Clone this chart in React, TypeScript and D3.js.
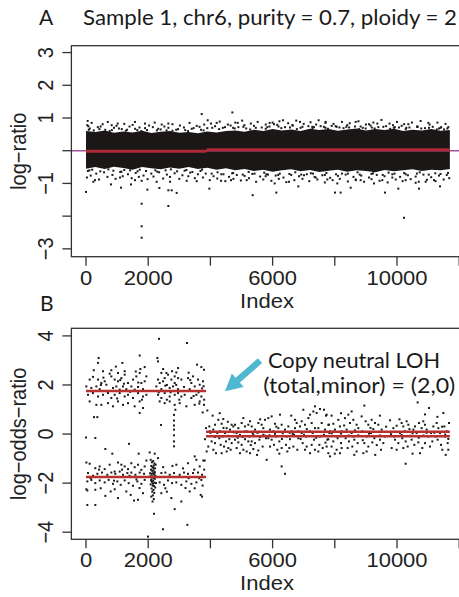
import * as d3 from "d3";

const W = 459;
const H = 597;

// shared x axis
const xTicks = [0, 2000, 4000, 6000, 8000, 10000, 12000];
const xTickLabels = ["0", "2000", "", "6000", "", "10000", ""];

// panel A: log-ratio
const ratioTicks = [-3, -2, -1, 0, 1, 2, 3];
const ratioTickLabels = ["\u22123", "", "\u22121", "", "1", "2", "3"];
const ratioSegStart = [0, 3870];
const ratioSegEnd = [3870, 11700];
const ratioSegValue = [-0.02, 0.03];
// dense core of the cloud (upper / lower envelope, every 300 index units)
const coreIdx = [
  0, 300, 600, 900, 1200, 1500, 1800, 2100, 2400, 2700, 3000, 3300, 3600, 3900, 4200, 4500, 4800, 5100, 5400, 5700,
  6000, 6300, 6600, 6900, 7200, 7500, 7800, 8100, 8400, 8700, 9000, 9300, 9600, 9900, 10200, 10500, 10800, 11100, 11400, 11700,
];
const coreHi = [
  0.6, 0.57, 0.62, 0.55, 0.59, 0.56, 0.61, 0.54, 0.58, 0.6, 0.55, 0.57, 0.53, 0.59, 0.56, 0.6, 0.62, 0.58, 0.64, 0.6,
  0.66, 0.62, 0.65, 0.6, 0.67, 0.63, 0.66, 0.61, 0.65, 0.68, 0.62, 0.66, 0.63, 0.67, 0.6, 0.64, 0.62, 0.66, 0.61, 0.63,
];
const coreLo = [
  -0.55, -0.5, -0.56, -0.49, -0.53, -0.58, -0.5, -0.54, -0.57, -0.51, -0.55, -0.5, -0.56, -0.52, -0.58, -0.54, -0.6, -0.56, -0.62, -0.58,
  -0.64, -0.6, -0.57, -0.63, -0.59, -0.65, -0.61, -0.58, -0.64, -0.6, -0.62, -0.66, -0.59, -0.63, -0.6, -0.57, -0.62, -0.58, -0.6, -0.56,
];
// points outside the core
const ratioPoints: [number, number][] = [
  [0, -1.26], [1790, -1.62], [1790, -2.31], [1790, -2.66], [2648, -1.69], [3720, 1.12], [4706, 1.17], [5360, -1.36],
  [1973, -1.19], [2359, -1.14], [2648, -1.21], [2755, -1.21], [2916, -1.29], [3967, -1.16], [804, -1.03], [1126, -1.13],
  [1447, -1.03], [54, 0.91], [75, 0.75], [536, 0.81], [826, 0.78], [1019, 0.83], [1576, 0.88], [1898, 0.83], [2434, 0.8],
  [2648, 0.83], [3913, 0.93], [4878, 0.85], [5092, 0.78], [4202, 0.85], [1576, -0.9], [1790, -0.92], [2273, -0.95],
  [2702, -0.95], [3238, -0.92], [3560, -0.93], [4342, -0.92], [4663, -0.9], [5167, -0.9], [236, -0.95], [290, -0.9],
  [1094, -0.82], [10225, -2.05], [6119, -1.28], [6827, -1.09], [8006, -1.28], [8188, -1.28], [9614, -1.28], [10043, -1.16],
  [10708, -1.16], [11383, -1.09], [6066, -1.0], [6527, -0.95], [7009, -0.75], [7384, -0.82], [7760, -0.88], [8081, -1.0],
  [8510, -1.13], [8671, -0.88], [8832, -0.9], [9261, -1.0], [9528, -0.9], [9850, -0.82], [10279, -0.9], [10600, -0.98],
  [10922, -0.95], [11190, -0.9], [5776, -0.78], [6334, 0.93], [7706, 0.88], [8671, 0.88], [9368, 0.83], [9871, 0.78],
  [10365, 0.81], [11008, 0.85], [6881, 0.88], [5905, 0.85], [6044, 0.81], [6634, 0.78], [7277, 0.73], [7545, 0.75],
  [8027, 0.75], [8371, 0.73], [8992, 0.68], [9100, 0.81], [10064, 0.71], [10654, 0.73], [11351, 0.68], [11511, 0.65],
  [120, 0.68], [380, 0.72], [620, 0.64], [900, 0.7], [1150, 0.66], [1400, 0.74], [1650, 0.63], [1900, 0.69], [2150, 0.72],
  [2400, 0.65], [2650, 0.7], [2900, 0.64], [3150, 0.71], [3400, 0.67], [3650, 0.73], [3900, 0.69], [4150, 0.75], [4400, 0.7],
  [4650, 0.77], [4900, 0.72], [5150, 0.68], [5400, 0.76], [5650, 0.71], [5900, 0.74], [6150, 0.79], [6400, 0.72], [6650, 0.77],
  [6900, 0.7], [7150, 0.75], [7400, 0.8], [7650, 0.73], [7900, 0.76], [8150, 0.71], [8400, 0.78], [8650, 0.74], [8900, 0.7],
  [9150, 0.77], [9400, 0.72], [9650, 0.75], [9900, 0.7], [10150, 0.76], [10400, 0.71], [10650, 0.74], [10900, 0.69],
  [11150, 0.73], [11400, 0.7], [11650, 0.72], [250, 0.62], [760, 0.6], [1280, 0.61], [1780, 0.6], [2280, 0.62], [2780, 0.61],
  [3280, 0.6], [3780, 0.62], [4280, 0.66], [4780, 0.68], [5280, 0.65], [5780, 0.67], [6280, 0.69], [6780, 0.66], [7280, 0.68],
  [7780, 0.67], [8280, 0.69], [8780, 0.66], [9280, 0.68], [9780, 0.67], [10280, 0.66], [10780, 0.68], [11280, 0.65],
  [60, -0.62], [330, -0.7], [580, -0.66], [850, -0.74], [1100, -0.65], [1350, -0.72], [1600, -0.68], [1850, -0.76], [2100, -0.7],
  [2350, -0.66], [2600, -0.73], [2850, -0.69], [3100, -0.75], [3350, -0.67], [3600, -0.72], [3850, -0.7], [4100, -0.78],
  [4350, -0.72], [4600, -0.8], [4850, -0.74], [5100, -0.77], [5350, -0.71], [5600, -0.79], [5850, -0.73], [6100, -0.76],
  [6350, -0.82], [6600, -0.74], [6850, -0.78], [7100, -0.72], [7350, -0.8], [7600, -0.75], [7850, -0.83], [8100, -0.77],
  [8350, -0.73], [8600, -0.8], [8850, -0.76], [9100, -0.82], [9350, -0.74], [9600, -0.78], [9850, -0.72], [10100, -0.8],
  [10350, -0.75], [10600, -0.79], [10850, -0.73], [11100, -0.81], [11350, -0.76], [11600, -0.74], [200, -0.58], [720, -0.57],
  [1230, -0.59], [1730, -0.58], [2230, -0.6], [2730, -0.57], [3230, -0.59], [3730, -0.58], [4230, -0.66], [4730, -0.68],
  [5230, -0.65], [5730, -0.67], [6230, -0.7], [6730, -0.66], [7230, -0.69], [7730, -0.68], [8230, -0.7], [8730, -0.66],
  [9230, -0.69], [9730, -0.67], [10230, -0.68], [10730, -0.66], [11230, -0.69],
  [40, 0.78], [180, 0.85], [470, 0.74], [700, 0.88], [980, 0.76], [1230, 0.82], [1500, 0.79], [1720, 0.71], [2030, 0.77],
  [2210, 0.86], [2520, 0.74], [2780, 0.81], [3020, 0.77], [3330, 0.85], [3560, 0.76], [3800, 0.8], [4020, 0.83], [4300, 0.89],
  [4560, 0.8], [4800, 0.86], [5020, 0.92], [5300, 0.83], [5520, 0.88], [5780, 0.8], [6000, 0.86], [6220, 0.9], [6500, 0.84],
  [6760, 0.92], [7000, 0.82], [7220, 0.87], [7480, 0.93], [7700, 0.85], [7960, 0.82], [8230, 0.88], [8480, 0.84], [8760, 0.9],
  [9000, 0.8], [9240, 0.86], [9500, 0.94], [9760, 0.83], [10000, 0.88], [10230, 0.81], [10480, 0.86], [10760, 0.91],
  [11050, 0.8], [11300, 0.86], [11560, 0.82],
  [30, -0.82], [150, -0.76], [420, -0.88], [690, -0.8], [950, -0.86], [1180, -0.78], [1470, -0.84], [1700, -0.8], [1980, -0.87],
  [2170, -0.79], [2480, -0.85], [2700, -0.8], [3000, -0.86], [3290, -0.78], [3500, -0.84], [3760, -0.82], [3980, -0.9],
  [4220, -0.85], [4480, -0.93], [4740, -0.86], [4980, -0.91], [5240, -0.84], [5470, -0.95], [5700, -0.88], [5960, -0.92],
  [6200, -0.86], [6440, -0.96], [6700, -0.9], [6960, -0.86], [7180, -0.93], [7440, -0.88], [7680, -0.97], [7930, -0.9],
  [8160, -0.86], [8420, -0.94], [8680, -0.9], [8940, -0.95], [9180, -0.87], [9440, -0.92], [9700, -0.97], [9960, -0.88],
  [10180, -0.93], [10440, -0.87], [10700, -0.95], [10960, -0.89], [11240, -0.93], [11500, -0.88], [11680, -0.84],
  [90, 0.64], [430, 0.66], [830, 0.63], [1060, 0.68], [1320, 0.64], [1580, 0.67], [1960, 0.63], [2320, 0.67], [2590, 0.62],
  [2960, 0.66], [3190, 0.63], [3460, 0.69], [3700, 0.64], [4060, 0.7], [4470, 0.72], [4730, 0.7], [5060, 0.73], [5460, 0.7],
  [5830, 0.72], [6190, 0.74], [6560, 0.71], [6960, 0.73], [7330, 0.72], [7700, 0.7], [8060, 0.73], [8460, 0.71], [8830, 0.74],
  [9190, 0.71], [9560, 0.73], [9930, 0.72], [10300, 0.7], [10660, 0.73], [11030, 0.7], [11420, 0.72], [11620, 0.68],
  [110, -0.6], [460, -0.63], [880, -0.61], [1140, -0.64], [1420, -0.6], [1660, -0.63], [1930, -0.62], [2290, -0.64],
  [2560, -0.6], [2930, -0.63], [3170, -0.61], [3420, -0.65], [3680, -0.62], [4040, -0.7], [4420, -0.72], [4700, -0.69],
  [5040, -0.73], [5420, -0.7], [5800, -0.72], [6180, -0.74], [6540, -0.71], [6920, -0.73], [7300, -0.7], [7680, -0.74],
  [8040, -0.72], [8420, -0.7], [8800, -0.73], [9180, -0.71], [9540, -0.74], [9920, -0.7], [10280, -0.72], [10640, -0.7],
  [11020, -0.73], [11400, -0.71], [11640, -0.68],
];

// panel B: log-odds-ratio
const oddsTicks = [-4, -2, 0, 2, 4];
const oddsTickLabels = ["\u22124", "\u22122", "0", "2", "4"];
const oddsSegStart = [0, 0, 3860, 3860];
const oddsSegEnd = [3860, 3860, 11700, 11700];
const oddsSegValue = [1.75, -1.75, 0.09, -0.09];
const oddsPoints: [number, number][] = [
  // upper cluster
  [2348, 3.88], [3248, 3.71], [408, 3.1], [386, 2.9], [1726, 3.2], [2294, 3.1], [2316, 2.96], [1169, 2.9], [3570, 2.83],
  [3709, 2.73], [2959, 2.69], [2766, 2.56], [2905, 2.51], [547, 2.56], [815, 2.6], [1029, 2.49], [1244, 2.56], [1887, 2.73],
  [1748, 2.65], [2584, 2.49], [3795, 2.62], [2852, 2.35], [2423, 2.49], [118, 2.22], [225, 2.33], [386, 2.22], [493, 2.08],
  [601, 2.15], [761, 2.46], [815, 2.35], [922, 2.22], [1029, 2.15], [1137, 2.28], [1244, 2.42], [1351, 2.08], [1512, 2.22],
  [1619, 2.35], [1726, 2.49], [1780, 2.08], [1887, 2.15], [1941, 2.35], [2316, 2.22], [2369, 2.08], [2477, 2.15], [2530, 2.28],
  [2637, 2.42], [2745, 2.22], [2852, 2.08], [2959, 2.28], [3066, 2.22], [3281, 2.28], [3441, 2.35], [3602, 2.22], [3763, 2.15],
  [3656, 2.01], [3388, 2.08], [11, 1.94], [172, 1.88], [333, 1.94], [440, 1.83], [654, 2.01], [869, 1.88], [976, 1.94],
  [1083, 1.81], [1190, 1.94], [1297, 1.83], [1458, 1.94], [1565, 1.81], [1673, 1.92], [1833, 1.83], [2262, 1.94], [2423, 1.83],
  [2552, 1.97], [2691, 1.88], [2798, 1.94], [2959, 1.83], [3152, 1.92], [3334, 1.83], [3495, 1.94], [3731, 1.86], [65, 1.6],
  [225, 1.67], [386, 1.53], [547, 1.6], [708, 1.67], [815, 1.47], [922, 1.6], [1083, 1.67], [1244, 1.53], [1351, 1.6],
  [1512, 1.47], [1673, 1.67], [1833, 1.53], [1941, 1.6], [2316, 1.6], [2423, 1.47], [2530, 1.67], [2691, 1.53], [2852, 1.6],
  [2959, 1.67], [3066, 1.53], [3173, 1.6], [3388, 1.47], [3549, 1.6], [3709, 1.53], [118, 1.33], [333, 1.19], [493, 1.19],
  [708, 1.26], [869, 1.13], [1029, 1.33], [1190, 1.19], [1351, 1.26], [1565, 1.13], [1726, 1.33], [1833, 1.06], [2369, 1.33],
  [2530, 1.26], [2691, 1.33], [2852, 1.19], [2873, 0.99], [3012, 1.26], [3227, 1.13], [3495, 1.19], [3656, 1.33], [3795, 1.19],
  [258, 0.69], [365, 0.69], [1726, 0.86], [2829, 0.78], [2829, 0.55], [2829, 0.35], [2829, 0.18], [2829, -0.05], [3643, 1.24],
  [150, 1.75], [480, 2.0], [700, 1.72], [1000, 1.45], [1220, 2.05], [1420, 1.72], [1600, 2.55], [1800, 1.4], [2340, 1.7],
  [2480, 2.65], [2600, 1.4], [2720, 1.7], [2900, 2.0], [3100, 1.75], [3300, 2.5], [3460, 1.55], [3620, 1.7], [3780, 1.95],
  [560, 2.3], [1100, 2.2], [1680, 2.1], [2600, 2.0], [3000, 1.4], [3350, 2.2], [3800, 1.4], [250, 2.6], [960, 2.75],
  // lower cluster
  [0, -0.14], [300, -0.16], [1383, -0.4], [2411, 0.37], [2829, -0.3], [2829, -0.5], [622, -0.61], [847, -0.8], [1694, -0.8],
  [2048, -0.75], [2209, -0.8], [2316, -0.98], [11, -1.16], [118, -1.21], [300, -1.39], [440, -1.32], [601, -1.43], [761, -1.25],
  [922, -1.53], [1029, -1.16], [1137, -1.25], [1244, -1.32], [1351, -1.43], [1458, -1.19], [1565, -1.35], [1673, -1.25],
  [1780, -1.46], [1887, -1.32], [1941, -1.08], [2905, -1.25], [3280, -1.19], [3495, -0.91], [3549, -1.05], [3816, -1.08],
  [3656, -1.32], [65, -1.59], [225, -1.7], [365, -1.62], [515, -1.57], [686, -1.66], [815, -1.57], [944, -1.62], [1083, -1.53],
  [1190, -1.66], [1330, -1.59], [1458, -1.57], [1587, -1.66], [1726, -1.57], [1866, -1.62], [2423, -1.59], [2552, -1.57],
  [2691, -1.66], [2830, -1.59], [3012, -1.66], [3152, -1.57], [3280, -1.62], [3441, -1.59], [3602, -1.57], [3731, -1.66],
  [43, -1.93], [172, -1.87], [300, -2.0], [440, -1.89], [601, -1.97], [729, -1.87], [869, -2.03], [1008, -1.93], [1115, -2.07],
  [1244, -1.89], [1372, -2.0], [1512, -2.11], [1651, -1.93], [1780, -2.03], [1887, -1.87], [2369, -1.97], [2509, -2.07],
  [2637, -1.89], [2766, -2.0], [2905, -1.97], [3066, -2.07], [3227, -1.93], [3388, -2.03], [3549, -1.97], [3709, -1.87],
  [11, -2.25], [43, -2.3], [300, -2.27], [472, -2.21], [622, -2.52], [794, -2.34], [922, -2.25], [1029, -2.61], [1297, -2.34],
  [1437, -2.48], [1544, -2.71], [1673, -2.68], [1833, -2.41], [2423, -2.41], [2552, -2.21], [2745, -2.61], [3066, -2.75],
  [3334, -2.34], [3495, -2.21], [3688, -2.48], [3731, -2.55], [43, -2.89], [300, -2.89], [2187, -3.25], [2852, -3.06],
  [2477, -3.88], [3259, -3.7], [1994, -4.18],
  [2080, -1.05], [2120, -1.15], [2160, -1.1], [2200, -1.2], [2100, -1.3], [2140, -1.35], [2180, -1.28], [2220, -1.4],
  [2090, -1.45], [2130, -1.5], [2170, -1.48], [2210, -1.55], [2150, -1.6], [2110, -1.62], [2190, -1.65], [2230, -1.7],
  [2070, -1.72], [2140, -1.76], [2175, -1.8], [2215, -1.82], [2100, -1.85], [2160, -1.9], [2120, -1.95], [2200, -1.98],
  [2080, -2.05], [2145, -2.1], [2185, -2.12], [2225, -2.18], [2110, -2.22], [2170, -2.28], [2130, -2.35], [2195, -2.4],
  [2150, -2.5], [2100, -2.55], [2180, -2.65], [2140, -2.75], [2165, -1.38], [2125, -1.72], [2205, -1.58], [2095, -1.9],
  [2155, -2.02], [2240, -1.25], [2060, -1.6], [2250, -2.0],
  [150, -1.8], [420, -1.45], [640, -1.75], [900, -1.9], [1160, -1.45], [1400, -1.7], [1620, -1.85], [1850, -1.75],
  [2350, -1.75], [2480, -1.35], [2620, -1.75], [2780, -1.3], [2960, -1.75], [3120, -1.4], [3300, -1.8], [3480, -1.45],
  [3640, -1.8], [3800, -1.45], [260, -1.75], [1000, -1.75], [1720, -2.2], [2600, -2.35], [3200, -2.2], [3750, -2.1],
  // right segment
  [3751, 0.88], [3901, 0.96], [4072, 0.75], [3965, 0.31], [3858, 0.24], [4094, 0.18], [4147, 0.38], [3987, 0.11], [3826, -0.21],
  [4040, -0.3], [4147, -0.37], [3933, -0.51], [4094, -0.64], [3880, -0.71], [4180, -0.78], [3772, -1.08], [4255, 0.58],
  [4362, 0.42], [4415, 0.61], [4523, 0.24], [4308, 0.11], [4469, 0.04], [4630, 0.18], [4683, 0.38], [4287, -0.17], [4394, -0.1],
  [4501, -0.3], [4608, -0.21], [4330, -0.44], [4437, -0.51], [4576, -0.57], [4683, -0.37], [4737, 0.31], [4362, -0.78],
  [4523, -0.71], [4651, -0.64], [4791, 0.38], [4898, 0.24], [5005, 0.45], [5059, 0.65], [5112, 0.31], [5219, 0.38], [4844, 0.04],
  [4951, -0.03], [5166, 0.11], [5252, -0.1], [4791, -0.23], [4898, -0.34], [5005, -0.44], [5112, -0.21], [5219, -0.3],
  [4844, -0.57], [5059, -0.64], [5166, -0.71], [5273, -0.78], [4951, -0.78], [5273, 0.52], [5327, 0.31], [5434, 0.18],
  [5541, 0.45], [5648, 0.38], [5380, -0.03], [5487, 0.07], [5595, -0.12], [5702, -0.03], [5327, -0.3], [5434, -0.37],
  [5573, -0.23], [5680, -0.51], [5788, -0.17], [5380, -0.61], [5541, -0.67], [5809, -1.05], [5755, 0.58], [5702, 0.24],
  [5863, 0.65], [5970, 0.72], [6077, 0.42], [5916, 0.18], [6023, 0.11], [6184, 0.24], [6291, 0.38], [6238, 0.79], [5863, -0.17],
  [5970, -0.23], [6109, -0.1], [6216, -0.3], [6324, 0.04], [5916, -0.51], [6045, -0.44], [6152, -0.64], [6291, -0.57],
  [6216, -0.8], [6291, -1.32], [6399, -1.62], [6399, 0.18], [6506, 0.31], [6613, 0.11], [6720, 0.24], [6452, -0.1], [6559, -0.21],
  [6688, -0.03], [6827, -0.17], [6431, -0.44], [6538, -0.57], [6667, -0.51], [6795, -0.64], [6474, -0.71], [6720, 0.58],
  [6774, 0.45], [6881, 0.31], [6827, 0.11], [6935, 0.52], [7042, 0.38], [7149, 0.65], [7256, 0.45], [7363, 0.24], [6935, 0.04],
  [7074, -0.1], [7203, 0.11], [7331, -0.23], [6967, -0.37], [7095, -0.51], [7256, -0.44], [7363, -0.64], [7042, -0.64],
  [7203, -0.78], [6988, 0.99], [7203, 0.79], [7363, 1.13], [7310, 0.92], [7417, 0.86], [7471, 0.24], [7578, 0.45], [7685, 0.18],
  [7792, 0.38], [7524, -0.1], [7653, -0.03], [7760, -0.23], [7503, -0.44], [7610, -0.57], [7738, -0.51], [7471, -0.71],
  [7792, -0.78], [7524, 1.02], [7653, 0.99], [7717, 0.75], [4222, 0.04], [4576, -0.07], [4758, 0.07], [5037, -0.12],
  [5359, 0.04], [5755, -0.07], [6077, 0.01], [6345, -0.07], [6645, 0.01], [7010, -0.03], [7288, 0.04], [7578, -0.07],
  [7824, 0.04], [7738, 0.79], [7898, 0.75], [7813, 0.38], [7952, 0.42], [8113, 0.58], [7845, 0.11], [8006, 0.18], [8166, 0.31],
  [8220, 0.11], [7791, -0.21], [7952, -0.3], [8091, -0.17], [8199, -0.37], [7898, -0.51], [8059, -0.64], [8220, -0.57],
  [7845, -0.91], [8166, -0.78], [8327, 0.65], [8434, 0.79], [8542, 0.92], [8488, 0.45], [8595, 0.58], [8702, 0.38], [8381, 0.18],
  [8542, 0.04], [8649, 0.15], [8756, 0.24], [8349, -0.17], [8456, -0.3], [8627, -0.23], [8735, -0.37], [8413, -0.57],
  [8563, -0.51], [8702, -0.71], [8627, -0.85], [8863, 0.72], [8949, 1.16], [8992, 0.52], [9078, 0.38], [9185, 0.58],
  [9292, 0.45], [9238, 0.2], [8885, 0.11], [9024, -0.1], [9163, 0.04], [9271, -0.17], [8949, -0.37], [9078, -0.51],
  [9206, -0.34], [9024, -0.71], [8917, -0.78], [9399, 0.38], [9506, 0.18], [9453, -0.23], [9560, -0.37], [9485, -0.64],
  [9614, -0.1], [9774, 0.56], [9882, 0.24], [9989, 0.34], [9807, -0.03], [9935, -0.23], [10042, -0.37], [9828, -0.57],
  [9989, -0.64], [10096, 0.04], [10150, 0.45], [10203, 0.31], [10257, 0.11], [10310, 0.52], [10364, 0.38], [10171, -0.17],
  [10278, -0.3], [10418, -0.07], [10203, -0.57], [10343, -0.51], [10278, -1.21], [10471, -0.23], [10525, 0.18], [10578, 0.31],
  [10664, 1.29], [10632, 0.04], [10707, 0.45], [10793, 0.24], [10846, 0.52], [10557, -0.44], [10686, -0.34], [10814, -0.57],
  [10739, -0.78], [10900, 0.38], [10954, 0.18], [11029, 1.06], [11007, -0.1], [11093, 0.04], [11168, 0.31], [10900, -0.37],
  [11061, -0.51], [11136, -0.3], [11275, 0.45], [11329, 0.24], [11382, 0.04], [11307, -0.23], [11415, -0.44], [11490, 0.86],
  [11522, 0.31], [11543, -0.1], [11597, 0.11], [11629, -0.37], [11457, -0.64], [11650, -0.64], [11565, -0.85], [11672, 0.45],
  [8756, -0.05], [9100, 0.02], [9450, -0.06], [9800, 0.05], [10150, -0.04], [10500, 0.03], [10850, -0.06], [11200, 0.05],
  [11550, -0.02], [8200, 0.02], [8450, -0.06], [7900, 0.03],
  [4000, 0.05], [4150, -0.12], [4420, 0.25], [4560, 0.5], [4880, -0.15], [5100, 0.1], [5300, -0.45], [5520, 0.05],
  [5600, 0.6], [5900, -0.05], [6120, 0.3], [6300, -0.2], [6550, 0.05], [6900, -0.2], [7100, 0.2], [7400, -0.15],
  [7700, -0.35], [7950, 0.1], [8300, 0.35], [8600, -0.1], [8900, -0.25], [9150, 0.25], [9350, -0.45], [9650, 0.3],
  [9900, -0.1], [10080, 0.6], [10400, 0.2], [10700, -0.15], [10950, 0.05], [11250, -0.1], [11450, 0.3], [11650, -0.2],
  [4300, 0.85], [6600, 0.75], [8200, 0.85], [9450, 0.75], [10900, 0.8], [11300, 0.7], [5500, -0.85], [8000, -0.8],
  [9300, -0.85], [10500, -0.8],
];

// annotation (data coordinates of panel B)
const arrowFrom = [5594, 2.99];
const arrowTo = [4469, 1.74];
const noteLines = ["Copy neutral LOH", "(total,minor) = (2,0)"];
const noteIdx = [5853, 5700];
const noteVal = [2.69, 1.69];

const rFont = "'Liberation Sans', Arial, Helvetica, sans-serif";
const cFont = "Lato, 'Open Sans', sans-serif";
const ink = "#222";

const x = d3.scaleLinear().domain([0, 12000]).range([86, 459.2]);
const xLo = -470;
const xHi = 12170;

function RText({ x0, y0, rotate, children, anchor = "middle" }: any) {
  const t = rotate
    ? `translate(${x0},${y0}) rotate(-90) scale(1,1.1)`
    : `translate(${x0},${y0}) scale(1.1,1)`;
  return (
    <text transform={t} textAnchor={anchor} fontFamily={rFont} fontSize={20} fill={ink}>
      {children}
    </text>
  );
}

function Frame({ y, ticks, labels, title }: any) {
  const [yb, yt] = y.range();
  const left = x(xLo);
  const right = x(xHi);
  return (
    <g>
      <rect x={left} y={yt} width={right - left} height={yb - yt} fill="none" stroke="#333" strokeWidth={1.3} />
      {xTicks.map((t, i) => (
        <g key={"x" + t}>
          <line x1={x(t)} x2={x(t)} y1={yb} y2={yb + 9} stroke="#333" strokeWidth={1.3} />
          {xTickLabels[i] && (
            <RText x0={x(t)} y0={yb + 28}>{xTickLabels[i]}</RText>
          )}
        </g>
      ))}
      {ticks.map((t: number, i: number) => (
        <g key={"y" + t}>
          <line x1={left - 9} x2={left} y1={y(t)} y2={y(t)} stroke="#333" strokeWidth={1.3} />
          {labels[i] && (
            <RText x0={53} y0={y(t)} rotate>{labels[i]}</RText>
          )}
        </g>
      ))}
      <RText x0={267} y0={yb + 51}>Index</RText>
      <RText x0={26} y0={(yb + yt) / 2} rotate>{title}</RText>
    </g>
  );
}

function Dots({ pts, y }: any) {
  return (
    <g fill="#1b1b1b">
      {pts.map((p: [number, number], i: number) => (
        <rect key={i} x={x(p[0]) - 1} y={y(p[1]) - 1} width={2} height={2} />
      ))}
    </g>
  );
}

export default function App() {
  const yA = d3.scaleLinear().domain([-3.24, 3.21]).range([256.7, 45.7]);
  const yB = d3.scaleLinear().domain([-4.29, 4.31]).range([539.3, 328.3]);

  const core = d3
    .area<number>()
    .x((d) => x(d))
    .y0((_, i) => yA(coreLo[i]))
    .y1((_, i) => yA(coreHi[i]));

  // arrow geometry in pixels from data coords
  const ax0 = x(arrowFrom[0]);
  const ay0 = yB(arrowFrom[1]);
  const ax1 = x(arrowTo[0]);
  const ay1 = yB(arrowTo[1]);
  const ang = Math.atan2(ay1 - ay0, ax1 - ax0);
  const headLen = 17;
  const headHalf = 9;
  const shaftHalf = 3.2;
  const bx = ax1 - headLen * Math.cos(ang);
  const by = ay1 - headLen * Math.sin(ang);
  const nx = -Math.sin(ang);
  const ny = Math.cos(ang);
  const arrowPts = [
    [ax0 + nx * shaftHalf, ay0 + ny * shaftHalf],
    [bx + nx * shaftHalf, by + ny * shaftHalf],
    [bx + nx * headHalf, by + ny * headHalf],
    [ax1, ay1],
    [bx - nx * headHalf, by - ny * headHalf],
    [bx - nx * shaftHalf, by - ny * shaftHalf],
    [ax0 - nx * shaftHalf, ay0 - ny * shaftHalf],
  ]
    .map((p) => p.join(","))
    .join(" ");

  return (
    <div style={{ position: "absolute", left: 0, top: 0, background: "#fff" }}>
      <svg width={W} height={H} viewBox={`0 0 ${W} ${H}`} style={{ display: "block" }}>
        <rect width={W} height={H} fill="#fff" />

        {/* titles */}
        <text x={39} y={25} fontFamily={cFont} fontSize={21} fill="#1a1a1a">A</text>
        <text x={83} y={25} fontFamily={cFont} fontSize={21} fill="#1a1a1a" textLength={374} lengthAdjust="spacingAndGlyphs">
          Sample 1, chr6, purity = 0.7, ploidy = 2
        </text>
        <text x={40} y={311} fontFamily={cFont} fontSize={21} fill="#1a1a1a">B</text>

        {/* panel A */}
        <path d={core(coreIdx) ?? ""} fill="#1b1717" />
        <Dots pts={ratioPoints} y={yA} />
        <line x1={x(xLo)} x2={x(xHi)} y1={yA(0)} y2={yA(0)} stroke="#a0559b" strokeWidth={1.6} />
        {ratioSegValue.map((v, i) => (
          <line key={i} x1={x(ratioSegStart[i])} x2={x(ratioSegEnd[i])} y1={yA(v)} y2={yA(v)} stroke="#b02a35" strokeWidth={3} />
        ))}
        <Frame y={yA} ticks={ratioTicks} labels={ratioTickLabels} title={"log\u2212ratio"} />

        {/* panel B */}
        <Dots pts={oddsPoints} y={yB} />
        {oddsSegValue.map((v, i) => (
          <line key={i} x1={x(oddsSegStart[i])} x2={x(oddsSegEnd[i])} y1={yB(v)} y2={yB(v)} stroke="#b8312f" strokeWidth={2.5} />
        ))}
        <Frame y={yB} ticks={oddsTicks} labels={oddsTickLabels} title={"log\u2212odds\u2212ratio"} />

        {/* annotation */}
        <polygon points={arrowPts} fill="#4fb8d0" />
        {noteLines.map((s, i) => (
          <text key={i} x={x(noteIdx[i])} y={yB(noteVal[i])} fontFamily={cFont} fontSize={21} fill="#1a1a1a"
            textLength={i === 0 ? 172 : 192} lengthAdjust="spacingAndGlyphs">
            {s}
          </text>
        ))}
      </svg>
    </div>
  );
}
